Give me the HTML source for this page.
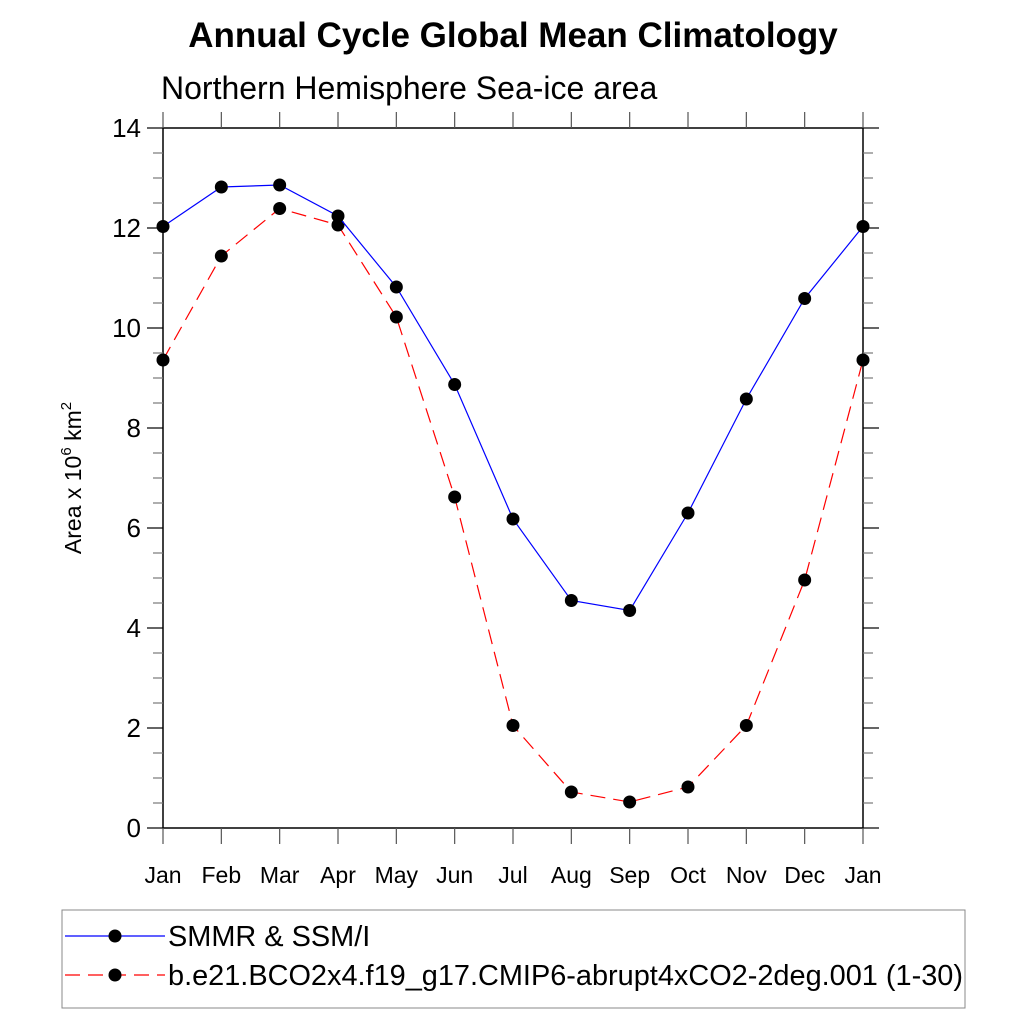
<!DOCTYPE html>
<html><head><meta charset="utf-8"><style>body{margin:0;background:#fff}svg{display:block}text{font-family:"Liberation Sans",sans-serif}</style></head>
<body>
<svg id="c" width="1024" height="1024">
<text x="513" y="47" font-size="35" font-weight="bold" text-anchor="middle">Annual Cycle Global Mean Climatology</text>
<text x="161" y="99" font-size="32">Northern Hemisphere Sea-ice area</text>
<text transform="translate(81,478) rotate(-90)" font-size="23" text-anchor="middle">Area x 10<tspan font-size="15" dy="-10">6</tspan><tspan dy="10"> km</tspan><tspan font-size="15" dy="-10">2</tspan></text>
<g id="axes"></g><g id="series"></g>
<g>
<rect x="62" y="910" width="903" height="98" fill="none" stroke="#888" stroke-width="1"/>
<line x1="65" y1="936" x2="165" y2="936" stroke="blue" stroke-width="1.2"/>
<circle cx="115" cy="936" r="6.5" fill="#000"/>
<text x="168" y="946" font-size="28.9">SMMR &amp; SSM/I</text>
<line x1="65" y1="975" x2="165" y2="975" stroke="red" stroke-width="1.2" stroke-dasharray="15,8"/>
<circle cx="115" cy="975" r="6.5" fill="#000"/>
<text x="168" y="985" font-size="28.9">b.e21.BCO2x4.f19_g17.CMIP6-abrupt4xCO2-2deg.001 (1-30)</text>
</g>
</svg>
<script>
const months=["Jan","Feb","Mar","Apr","May","Jun","Jul","Aug","Sep","Oct","Nov","Dec","Jan"];
const obsValues=[12.03,12.82,12.86,12.24,10.82,8.87,6.18,4.55,4.35,6.30,8.58,10.59,12.03];
const modelValues=[9.36,11.44,12.39,12.06,10.22,6.62,2.05,0.72,0.52,0.82,2.05,4.96,9.36];
const yTicks=[0,2,4,6,8,10,12,14];
const NS="http://www.w3.org/2000/svg";
const X0=163,X1=863,Y0=828,Y1=128;
const xs=i=>X0+(X1-X0)*i/12, ys=v=>Y0-(Y0-Y1)*v/14;
function mk(t,a,p){const e=document.createElementNS(NS,t);for(const k in a)e.setAttribute(k,a[k]);p.appendChild(e);return e;}
const ax=document.getElementById('axes');
const fr=mk('rect',{x:X0,y:Y1,width:X1-X0,height:Y0-Y1,fill:'none',stroke:'#000','stroke-width':1.5},ax);


for(let v=0;v<=14;v+=0.5){const maj=v%2===0,len=maj?16:10,y=ys(v);
mk('line',{x1:X0-len,y1:y,x2:X0,y2:y,stroke:maj?'#000':'#777','stroke-width':1.2},ax);
mk('line',{x1:X1,y1:y,x2:X1+len,y2:y,stroke:maj?'#000':'#777','stroke-width':1.2},ax);}
yTicks.forEach(v=>{const t=mk('text',{x:X0-22,y:ys(v)+9,'font-size':26,'text-anchor':'end'},ax);t.textContent=v;

});
months.forEach((m,i)=>{const x=xs(i);
mk('line',{x1:x,y1:Y0,x2:x,y2:Y0+16,stroke:'#555','stroke-width':1.2},ax);
mk('line',{x1:x,y1:Y1-16,x2:x,y2:Y1,stroke:'#555','stroke-width':1.2},ax);
const t=mk('text',{x:x,y:883,'font-size':23,'text-anchor':'middle'},ax);t.textContent=m;

});
const sg=document.getElementById('series');
function draw(vals,color,dash,name){
const pl=mk('polyline',{points:vals.map((v,i)=>xs(i)+','+ys(v)).join(' '),fill:'none',stroke:color,'stroke-width':1.2,'stroke-dasharray':dash},sg);


vals.forEach((v,i)=>{const c=mk('circle',{cx:xs(i),cy:ys(v),r:6.5,fill:'#000'},sg);

});}
draw(modelValues,'red','15,8','model');
draw(obsValues,'blue','none','obs');
</script>
</body></html>
